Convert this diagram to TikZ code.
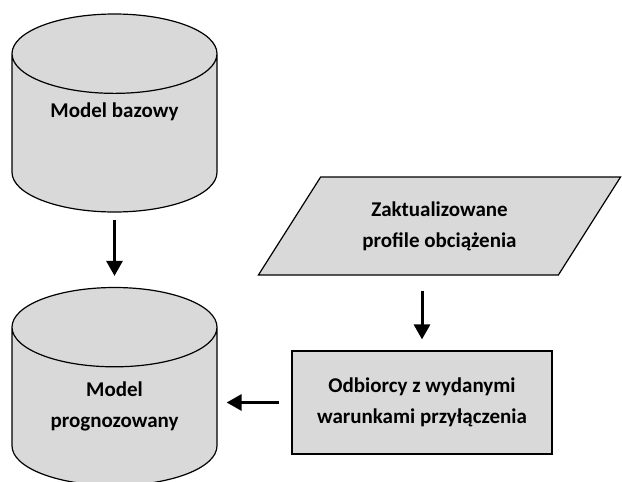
\documentclass[tikz,border=0pt]{standalone}
\usepackage{fontspec}
\setmainfont{Carlito}
\usetikzlibrary{arrows.meta, shapes.geometric}

\begin{document}
\begin{tikzpicture}[x=1pt, y=-1pt, line width=1.2pt,
    every node/.style={font=\fontsize{21}{31}\selectfont\bfseries, align=center},
    db/.style={draw, fill=gray!30, cylinder, shape border rotate=90, aspect=0.62, minimum width=205pt, minimum height=198pt, inner sep=0pt, anchor=shape center},
    arr/.style={line width=3pt, -{Triangle[width=16pt, length=15pt]}}]
    \useasboundingbox (0,0) rectangle (622,482);
    \node[db, text depth=46pt] (a) at (114.5,113) {Model bazowy};
    \node[db] (b) at (114.5,386.5) {Model\\prognozowany};
    \node[draw, fill=gray!30, trapezium, trapezium left angle=53, trapezium right angle=127, trapezium stretches=true, minimum width=363pt, minimum height=98pt] (c) at (439.5,226) {Zaktualizowane\\profile obciążenia};
    \node[draw, fill=gray!30, minimum width=260pt, minimum height=103pt] (d) at (422,402.5) {Odbiorcy z wydanymi\\warunkami przyłączenia};
    \draw[arr, shorten <=7pt, shorten >=11pt] (a) -- (b);
    \draw[arr, shorten <=15pt, shorten >=11pt] (d.north |- c.south) -- (d.north);
    \draw[arr, shorten <=12pt, shorten >=9pt] (d.west) -- (b.east |- d.west);
  \end{tikzpicture}
\end{document}
